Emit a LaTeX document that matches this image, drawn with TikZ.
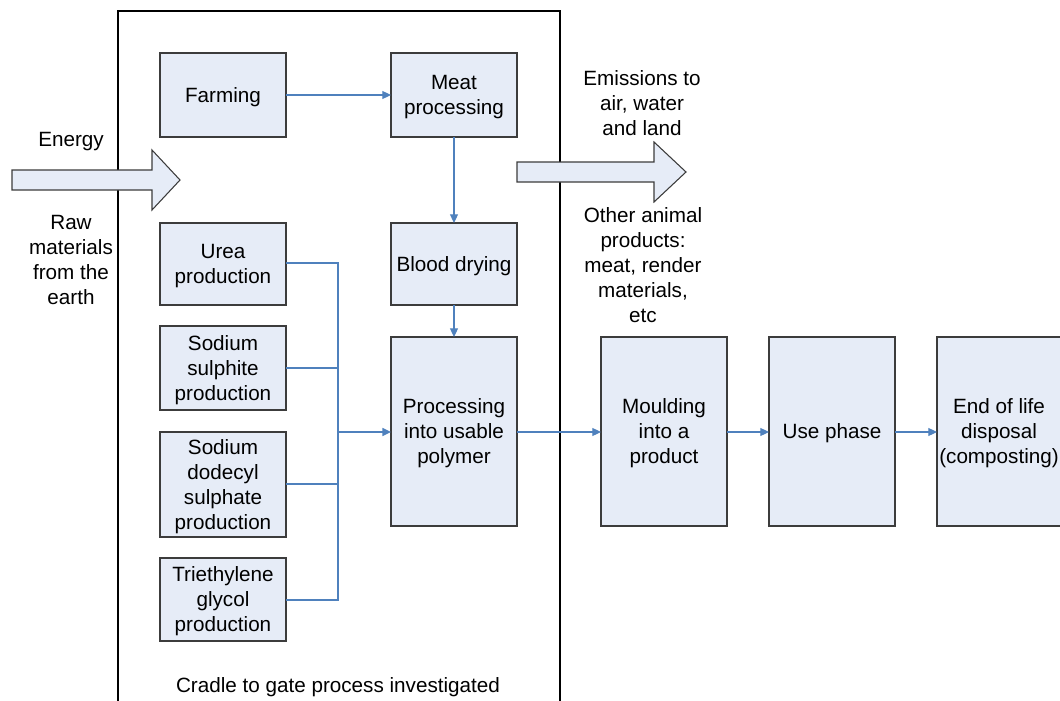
\documentclass[tikz,border=0pt]{standalone}
\usepackage{fontspec}
\setmainfont{Liberation Sans}
\usetikzlibrary{arrows.meta}
\definecolor{boxfill}{RGB}{230,236,247}
\definecolor{boxline}{RGB}{60,60,60}
\definecolor{flow}{RGB}{79,129,189}
\begin{document}
\begin{tikzpicture}[x=0.75pt,y=-0.75pt,
  every node/.style={font=\fontsize{15.5}{18.75}\selectfont, align=center, inner sep=0pt},
  lbl/.style={yshift=-1.5pt},
  proc/.style={draw=boxline, fill=boxfill, line width=0.8pt},
  flowline/.style={draw=flow, line width=0.8pt},
  flowarrow/.style={flowline, -{Triangle[length=6.5pt,width=6pt]}},
  bigarrow/.style={draw=boxline, fill=boxfill, line width=0.8pt, line join=miter}]
\useasboundingbox (0,0) rectangle (1060,700);
\clip (0,0) rectangle (1060,700);

% system boundary
\draw[line width=0.8pt, black] (118,710) -- (118,11) -- (560,11) -- (560,710);
\node[lbl] (boundary) at (338,685) {Cradle to gate process investigated};

% process boxes
\draw[proc] (160,53) rectangle (286,137) node[midway,lbl] (farm) {Farming};
\draw[proc] (391,53) rectangle (517,137) node[midway,lbl] (meat) {Meat\\processing};
\draw[proc] (160,223) rectangle (286,305) node[midway,lbl] (urea) {Urea\\production};
\draw[proc] (391,223) rectangle (517,305) node[midway,lbl] (blood) {Blood drying};
\draw[proc] (160,326) rectangle (286,410) node[midway,lbl] (sulph) {Sodium\\sulphite\\production};
\draw[proc] (160,432) rectangle (286,537) node[midway,lbl] (sds) {Sodium\\dodecyl\\sulphate\\production};
\draw[proc] (160,558) rectangle (286,641) node[midway,lbl] (teg) {Triethylene\\glycol\\production};
\draw[proc] (391,337) rectangle (517,526) node[midway,lbl] (poly) {Processing\\into usable\\polymer};
\draw[proc] (601,337) rectangle (727,526) node[midway,lbl] (mould) {Moulding\\into a\\product};
\draw[proc] (769,337) rectangle (895,526) node[midway,lbl] (use) {Use phase};
\draw[proc] (937,337) rectangle (1075,526);
\node[lbl] (eol) at (999,431) {End of life\\disposal\\(composting)};

% coordinates on box edges
\coordinate (farmE) at (286,95);
\coordinate (meatW) at (391,95);
\coordinate (meatS) at (454,137);
\coordinate (bloodN) at (454,223);
\coordinate (bloodS) at (454,305);
\coordinate (polyN) at (454,337);
\coordinate (polyW) at (391,432);
\coordinate (polyE) at (517,432);
\coordinate (mouldW) at (601,432);
\coordinate (mouldE) at (727,432);
\coordinate (useW) at (769,432);
\coordinate (useE) at (895,432);
\coordinate (eolW) at (937,432);
\coordinate (bus) at (338,432);

% flows
\draw[flowarrow] (farmE) -- (meatW);
\draw[flowarrow] (meatS) -- (bloodN);
\draw[flowarrow] (bloodS) -- (polyN);
\draw[flowline] (286,263) -- (338,263) -- (338,600) -- (286,600);
\draw[flowline] (286,368) -- (338,368);
\draw[flowline] (286,484) -- (338,484);
\draw[flowarrow, line width=1.1pt] (bus) -- (polyW);
\draw[flowarrow] (polyE) -- (mouldW);
\draw[flowarrow] (mouldE) -- (useW);
\draw[flowarrow] (useE) -- (eolW);

% block arrows
\draw[bigarrow] (12,170) -- (152,170) -- (152,150) -- (180,180) -- (152,210) -- (152,190) -- (12,190) -- cycle;
\draw[bigarrow] (517,162) -- (654,162) -- (654,142) -- (686,172) -- (654,202) -- (654,182) -- (517,182) -- cycle;

% side labels
\node[lbl] (energy) at (71,140) {Energy};
\node[lbl] (raw) at (71,258) {Raw\\materials\\from the\\earth};
\node[lbl] (emis) at (642,101) {Emissions to\\air, water\\and land};
\node[lbl] (other) at (643,263) {Other animal\\products:\\meat, render\\materials,\\etc};
\end{tikzpicture}
\end{document}
